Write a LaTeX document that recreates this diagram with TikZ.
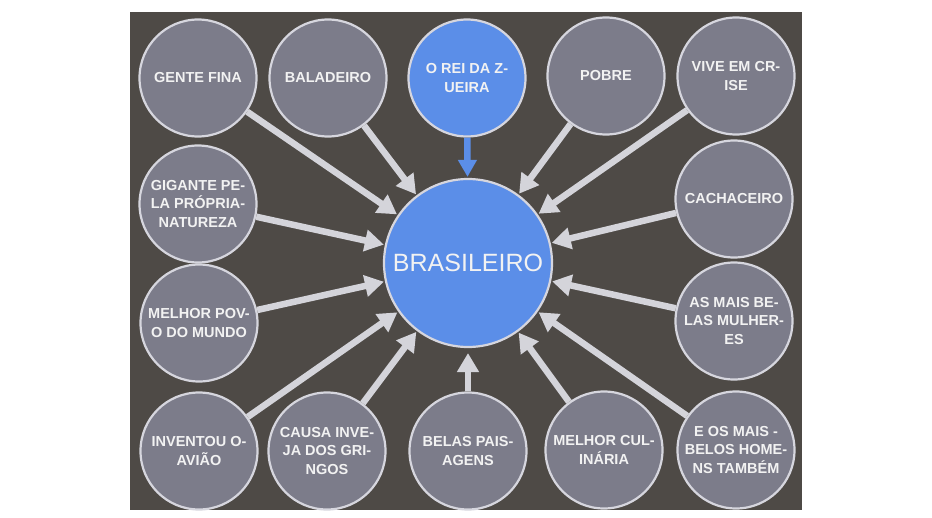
\documentclass[tikz,border=0pt]{standalone}
\usepackage{fontspec}
\setmainfont{Liberation Sans}
\usetikzlibrary{arrows.meta}
\definecolor{bgdark}{HTML}{4E4A46}
\definecolor{bubblegray}{HTML}{7C7C8A}
\definecolor{rimgray}{HTML}{D6D6DE}
\definecolor{hubblue}{HTML}{5B8EE8}
\definecolor{arrgray}{HTML}{D4D4DA}
\begin{document}
\begin{tikzpicture}[x=1pt,y=-1pt,
    bubble/.style={circle,draw=rimgray,line width=2.2pt,fill=bubblegray,
      minimum size=117pt,inner sep=0pt,align=center,text=white!95!black,
      font=\fontsize{14.5}{18.5}\selectfont\bfseries},
    hub/.style={bubble,fill=hubblue,minimum size=168pt,
      font=\fontsize{25}{29}\selectfont},
    arr/.style={-{Triangle[width=21pt,length=19pt]},line width=6.5pt,
      draw=arrgray,shorten >=1pt}]
  \fill[white] (0,0) rectangle (932,517);
  \useasboundingbox (0,0) rectangle (932,517);
  \fill[bgdark] (130,12) rectangle (802,510);
  \begin{scope}
    \clip (130,12) rectangle (802,510);
    \path
      (198,78) node[bubble] (0){GENTE FINA}
      (328,78) node[bubble] (1){BALADEIRO}
      (467,78) node[bubble,fill=hubblue] (2){O REI DA Z-\\UEIRA}
      (606,76) node[bubble] (3){POBRE}
      (736,76) node[bubble] (4){VIVE EM CR-\\ISE}
      (734,199) node[bubble] (5){CACHACEIRO}
      (734,321) node[bubble] (6){AS MAIS BE-\\LAS MULHER-\\ES}
      (736,450) node[bubble] (7){E OS MAIS -\\BELOS HOME-\\NS TAMBÉM}
      (604,450) node[bubble] (8){MELHOR CUL-\\INÁRIA}
      (468,451) node[bubble] (9){BELAS PAIS-\\AGENS}
      (327,451) node[bubble] (10){CAUSA INVE-\\JA DOS GRI-\\NGOS}
      (199,451) node[bubble] (11){INVENTOU O-\\AVIÃO}
      (199,323) node[bubble] (12){MELHOR POV-\\O DO MUNDO}
      (198,204) node[bubble] (13){GIGANTE PE-\\LA PRÓPRIA-\\NATUREZA}
      (468,263) node[hub] (br){BRASILEIRO};
    \begin{scope}[arr]
      \draw[draw=hubblue,-{Triangle[width=18pt,length=17pt]}] (2) to (br);
      \draw (0) to (br);
      \draw (1) to (br);
      \draw (3) to (br);
      \draw (4) to (br);
      \draw (5) to (br);
      \draw (6) to (br);
      \draw (7) to (br);
      \draw (8) to (br);
      \draw[shorten >=5pt] (9) to (br);
      \draw (10) to (br);
      \draw (11) to (br);
      \draw (12) to (br);
      \draw (13) to (br);
    \end{scope}
  \end{scope}
\end{tikzpicture}
\end{document}
